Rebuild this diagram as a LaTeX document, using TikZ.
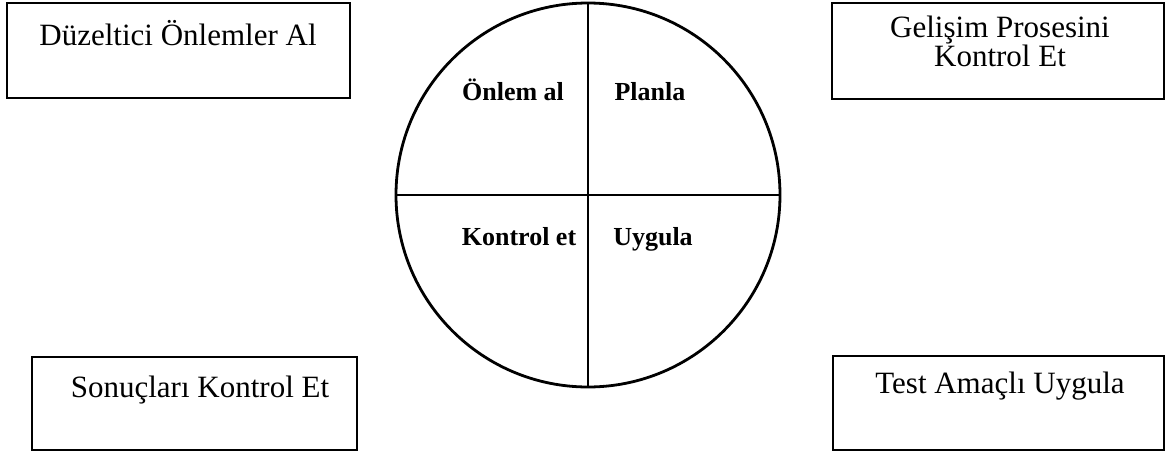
\documentclass[tikz,border=0pt]{standalone}
\usepackage{fontspec}
\setmainfont{Liberation Serif}
\begin{document}
\begin{tikzpicture}[x=1pt,y=-1pt,
  frame/.style={line width=2.6pt, line join=miter},
  boxtext/.style={anchor=base, inner sep=0pt, font=\fontsize{31}{36}\selectfont},
  quadtext/.style={anchor=base, inner sep=0pt, font=\fontsize{26}{30}\selectfont\bfseries}]
\useasboundingbox (0,0) rectangle (1167,458);
% boxes
\draw[frame] (7,3) rectangle (350,98);
\draw[frame] (832,3) rectangle (1164,99);
\draw[frame] (32,357) rectangle (357,450);
\draw[frame] (833,356) rectangle (1164,450);
\node[boxtext] (tl) at (178,45) {Düzeltici Önlemler Al};
\node[boxtext] (tr1) at (1000,37) {Gelişim Prosesini};
\node[boxtext] (tr2) at (1000,66) {Kontrol Et};
\node[boxtext] (bl) at (200,397) {Sonuçları Kontrol Et};
\node[boxtext] (br) at (1000,393) {Test Amaçlı Uygula};
% circle
\coordinate (c) at (588,195);
\draw[line width=2.8pt] (c) circle[radius=192];
\draw[line width=2.6pt] (588,3) -- (588,387);
\draw[line width=2.6pt] (396,195) -- (780,195);
\node[quadtext] (q1) at (513,100) {Önlem al};
\node[quadtext] (q2) at (650,100) {Planla};
\node[quadtext] (q3) at (519,245) {Kontrol et};
\node[quadtext] (q4) at (653,245) {Uygula};
\end{tikzpicture}
\end{document}
